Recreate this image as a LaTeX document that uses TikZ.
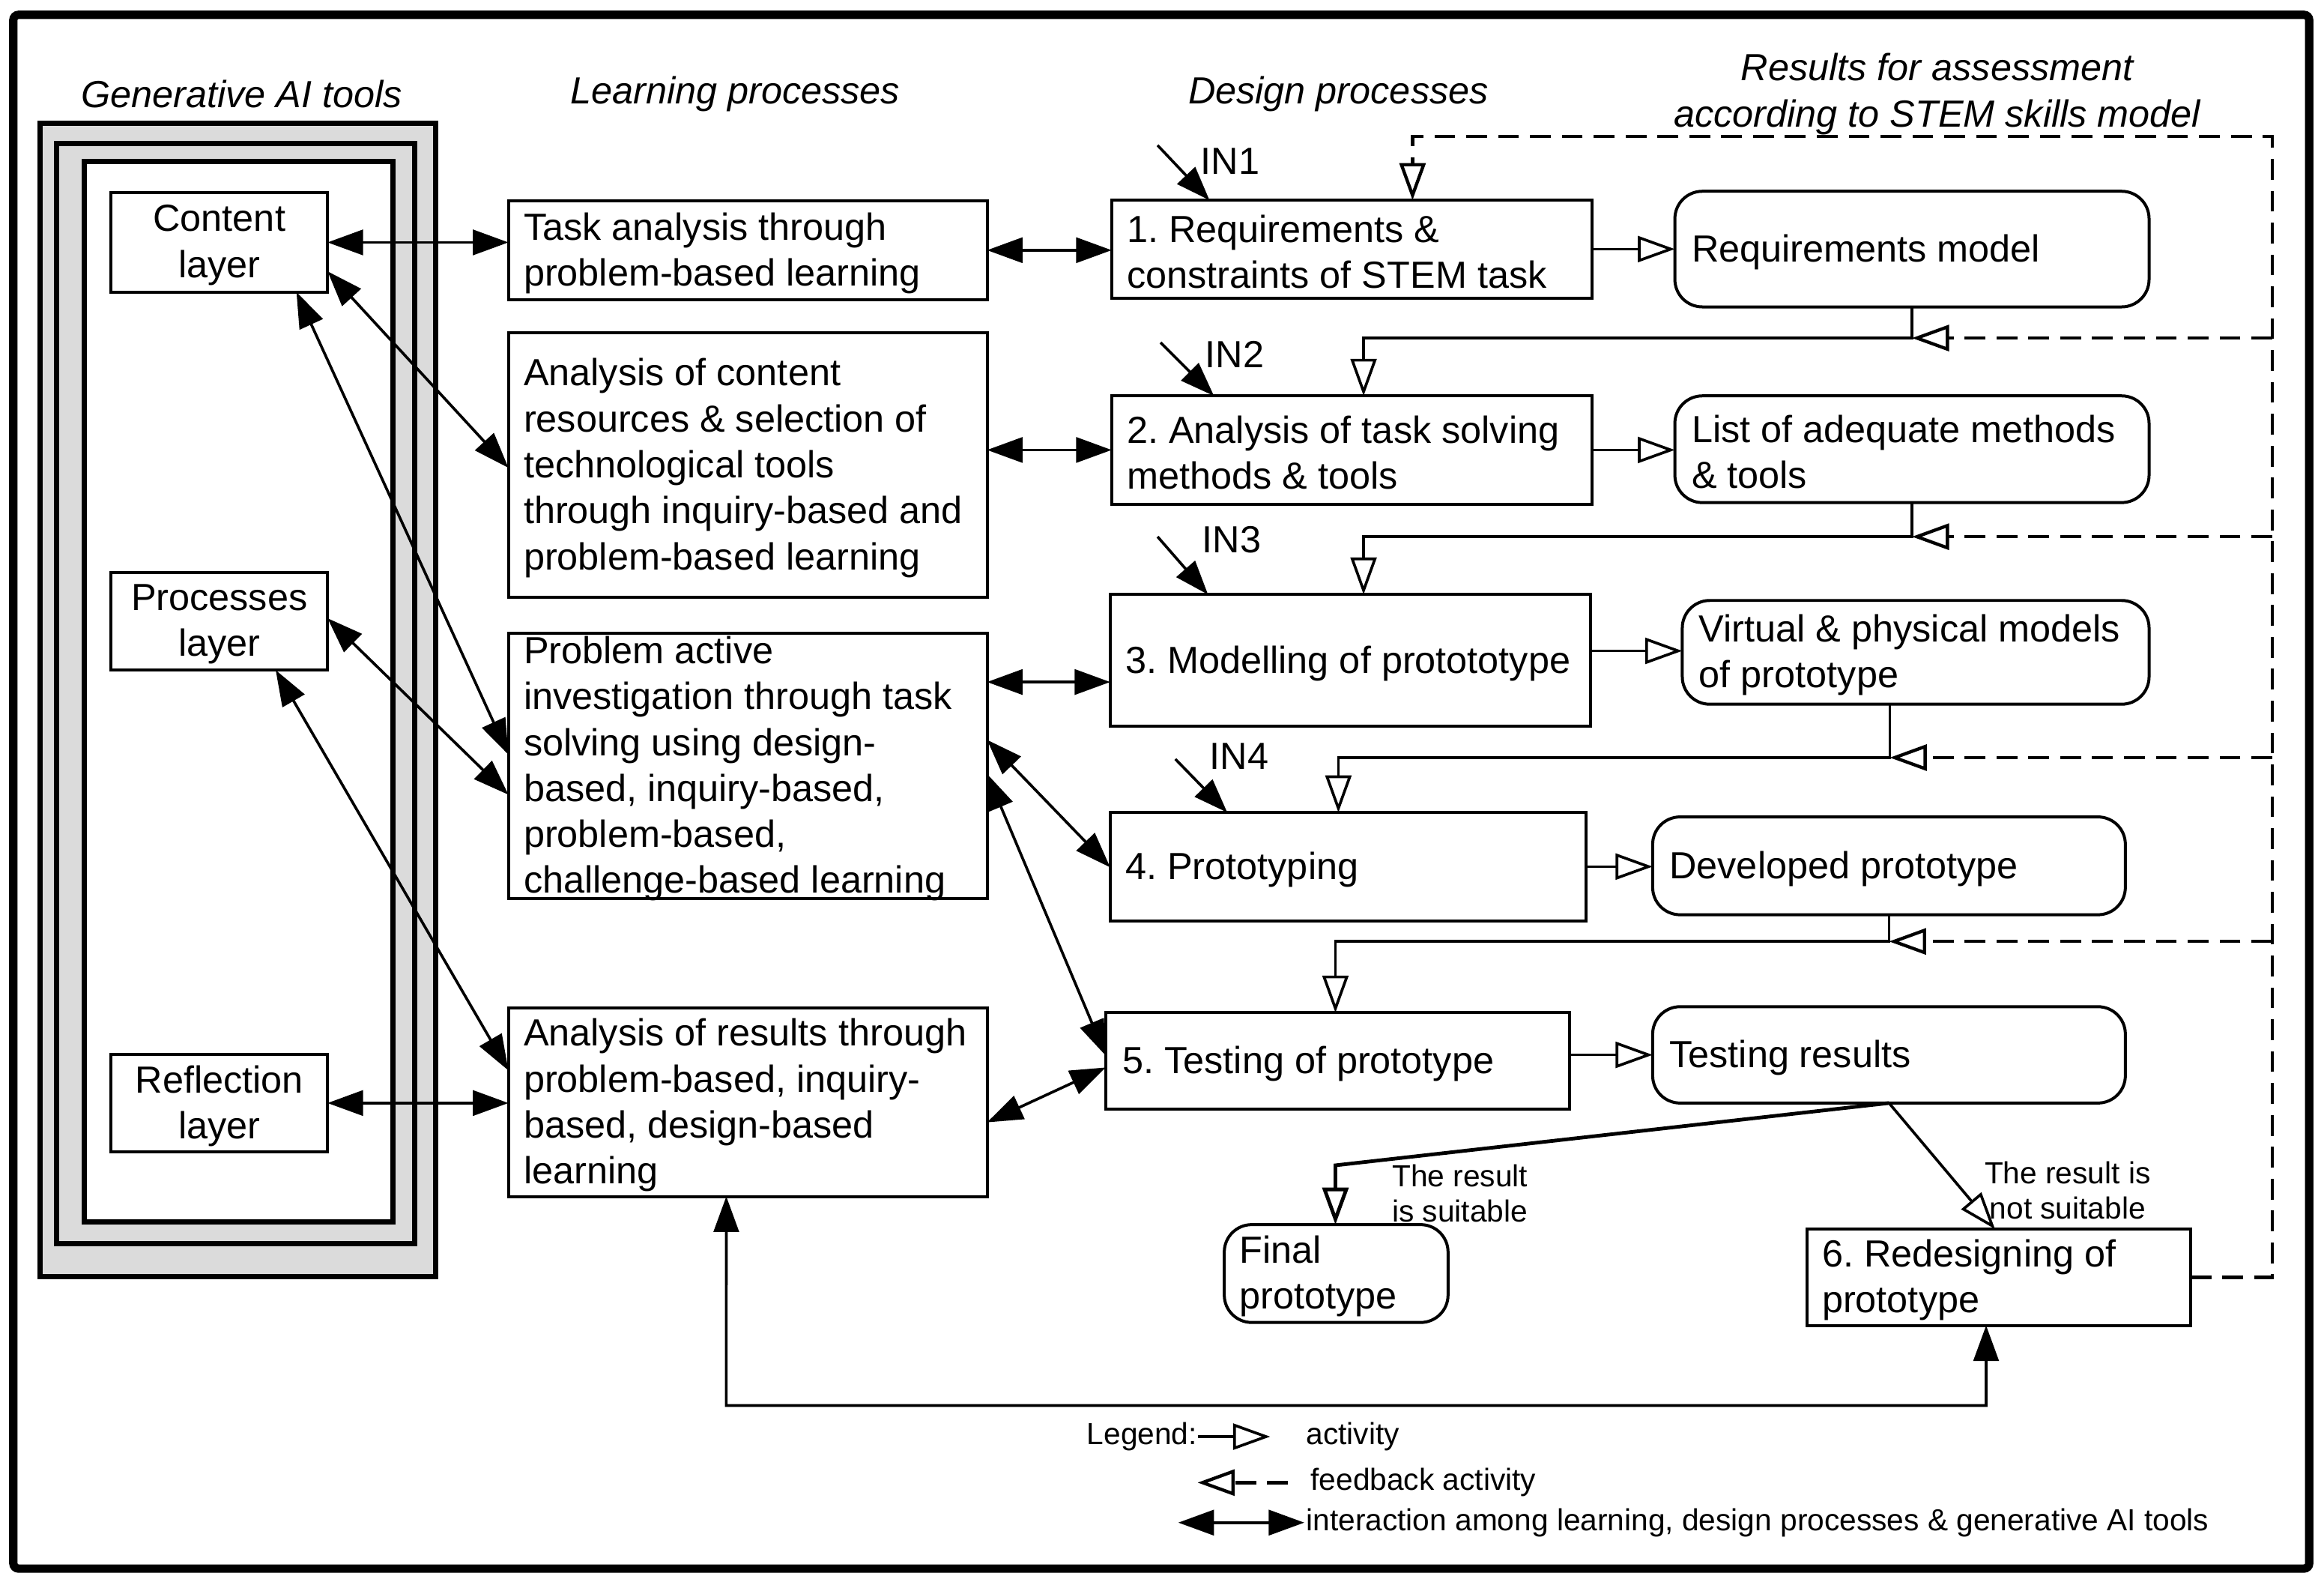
\documentclass[tikz,border=0pt]{standalone}
\usepackage{fontspec}
\setmainfont{Liberation Sans}
\usetikzlibrary{arrows.meta,calc}
\newcommand\mainsz{\fontsize{14.5pt}{17.64pt}\selectfont}
\newcommand\smallsz{\fontsize{11.7pt}{13.66pt}\selectfont}
\frenchspacing
\tikzset{
  pbox/.style={draw, line width=1.15pt, fill=white, inner sep=0pt, outer sep=0pt},
  rbox/.style={pbox, rounded corners=0.37cm},
  txt/.style={inner sep=0pt, align=left, font=\mainsz\frenchspacing, anchor=west, yshift=-1.1pt},
  ctxt/.style={inner sep=0pt, align=center, font=\mainsz\frenchspacing, yshift=-1.1pt},
  hdr/.style={inner sep=0pt, font=\mainsz\itshape, yshift=-1.4pt},
  lab/.style={inner sep=0pt, align=center, font=\smallsz},
  conn/.style={line width=1.05pt},
  inter/.style={conn, {Triangle[length=0.48cm,width=0.34cm]}-{Triangle[length=0.48cm,width=0.34cm]}},
  inarr/.style={conn, -{Triangle[length=0.46cm,width=0.33cm]}},
  act/.style={conn, -{Triangle[fill=white,length=0.5cm,width=0.35cm]}},
  fb/.style={act, line width=1.25pt, dash pattern=on 0.28cm off 0.15cm},
}
\begin{document}
\begin{tikzpicture}[x=0.02cm,y=-0.02cm]
\useasboundingbox (0,0) rectangle (1568,1071.1);
% outer frame
\draw[line width=3.2pt, rounded corners=2pt] (9,10) rectangle (1558,1058);
% generative AI tools frame
\draw[line width=2pt, fill=black!14] (27,83) rectangle (294,861);
\draw[line width=2pt, fill=black!14] (38,97) rectangle (280,839);
\draw[line width=2pt, fill=white] (57,109) rectangle (265,824);

% headers
\node[hdr] at (163,61) {Generative AI tools};
\node[hdr] at (496,61) {Learning processes};
\node[hdr] at (903,61) {Design processes};
\node[hdr, align=center] at (1307,61) {Results for assessment\\according to STEM skills model};

% layer boxes
\node[pbox, minimum width=2.92cm, minimum height=1.34cm] (CL) at (148,163.5) {};
\node[ctxt] at (CL) {Content\\layer};
\node[pbox, minimum width=2.92cm, minimum height=1.32cm] (PL) at (148,419) {};
\node[ctxt] at (PL) {Processes\\layer};
\node[pbox, minimum width=2.92cm, minimum height=1.32cm] (RL) at (148,744) {};
\node[ctxt] at (RL) {Reflection\\layer};

% learning processes
\node[pbox, minimum width=6.46cm, minimum height=1.33cm] (L1) at (504.5,168.75) {};
\node[txt] at ($(L1.west)+(10,0)$) {Task analysis through\\problem-based learning};
\node[pbox, minimum width=6.46cm, minimum height=3.57cm] (L2) at (504.5,313.75) {};
\node[txt] at ($(L2.west)+(10,0)$) {Analysis of content\\resources \& selection of\\technological tools\\through inquiry-based and\\problem-based learning};
\node[pbox, minimum width=6.46cm, minimum height=3.58cm] (L3) at (504.5,516.5) {};
\node[txt] at ($(L3.west)+(10,0)$) {Problem active\\investigation through task\\solving using design-\\based, inquiry-based,\\problem-based,\\challenge-based learning};
\node[pbox, minimum width=6.46cm, minimum height=2.54cm] (L4) at (504.5,743.5) {};
\node[txt] at ($(L4.west)+(10,0)$) {Analysis of results through\\problem-based, inquiry-\\based, design-based\\learning};

% design processes
\node[pbox, minimum width=6.48cm, minimum height=1.32cm] (D1) at (912,168) {};
\node[txt] at ($(D1.west)+(10,0)$) {1. Requirements \&\\constraints of STEM task};
\node[pbox, minimum width=6.48cm, minimum height=1.46cm] (D2) at (912,303.5) {};
\node[txt] at ($(D2.west)+(10,0)$) {2. Analysis of task solving\\methods \& tools};
\node[pbox, minimum width=6.48cm, minimum height=1.78cm] (D3) at (911,445.5) {};
\node[txt] at ($(D3.west)+(10,0)$) {3. Modelling of protototype};
\node[pbox, minimum width=6.42cm, minimum height=1.46cm] (D4) at (909.5,584.5) {};
\node[txt] at ($(D4.west)+(10,0)$) {4. Prototyping};
\node[pbox, minimum width=6.26cm, minimum height=1.30cm] (D5) at (902.5,715.5) {};
\node[txt] at ($(D5.west)+(11,0)$) {5. Testing of prototype};
\node[pbox, minimum width=5.18cm, minimum height=1.30cm] (D6) at (1348.5,861.5) {};
\node[txt] at ($(D6.west)+(10,0)$) {6. Redesigning of\\prototype};

% results
\node[rbox, minimum width=6.40cm, minimum height=1.56cm] (R1) at (1290,168) {};
\node[txt] at ($(R1.west)+(11,0)$) {Requirements model};
\node[rbox, minimum width=6.40cm, minimum height=1.44cm] (R2) at (1290,303) {};
\node[txt] at ($(R2.west)+(11,0)$) {List of adequate methods\\\& tools};
\node[rbox, minimum width=6.30cm, minimum height=1.40cm] (R3) at (1292.5,440) {};
\node[txt] at ($(R3.west)+(11,0)$) {Virtual \& physical models\\of prototype};
\node[rbox, minimum width=6.38cm, minimum height=1.32cm] (R4) at (1274.5,584) {};
\node[txt] at ($(R4.west)+(11,0)$) {Developed prototype};
\node[rbox, minimum width=6.38cm, minimum height=1.30cm] (R5) at (1274.5,711.5) {};
\node[txt] at ($(R5.west)+(11,0)$) {Testing results};
\node[rbox, minimum width=3.02cm, minimum height=1.32cm] (R6) at (901.5,859) {};
\node[txt] at ($(R6.west)+(10,0)$) {Final\\prototype};

% IN inputs
\node[ctxt] (in1l) at (830,107) {IN1};
\node[ctxt] (in2l) at (833,237) {IN2};
\node[ctxt] (in3l) at (831,362) {IN3};
\node[ctxt] (in4l) at (836,508) {IN4};
\coordinate (in1) at (781,98);
\coordinate (in2) at (783,231);
\coordinate (in3) at (781,362);
\coordinate (in4) at (793,512);
\draw[inarr] (in1) -- ($(D1.north west)+(66,0)$);
\draw[inarr] (in2) -- ($(D2.north west)+(69,0)$);
\draw[inarr] (in3) -- ($(D3.north west)+(66,0)$);
\draw[inarr] (in4) -- ($(D4.north west)+(79,0)$);

% interactions AI tools <-> learning
\draw[inter] (CL.east) -- (CL.east -| L1.west);
\draw[inter] ($(CL.north east)+(0,53)$) -- ($(L2.north west)+(0,91)$);
\draw[inter] ($(CL.south west)+(125,0)$) -- ($(L3.north west)+(0,82)$);
\draw[inter] ($(PL.north east)+(0,31)$) -- ($(L3.north west)+(0,109)$);
\draw[inter] ($(PL.south west)+(111,0)$) -- ($(L4.north west)+(0,42)$);
\draw[inter] (RL.east) -- (RL.east -| L4.west);

% interactions learning <-> design
\draw[inter] (L1.east) -- (L1.east -| D1.west);
\draw[inter] (D2.west -| L2.east) -- (D2.west);
\coordinate (l3d3) at ($(L3.north east)+(0,33)$);
\draw[inter] (l3d3) -- (l3d3 -| D3.west);
\draw[inter] ($(L3.north east)+(0,72)$) -- ($(D4.north west)+(0,37)$);
\draw[inter] ($(L3.north east)+(0,95)$) -- ($(D5.north west)+(0,29)$);
\draw[inter] ($(L4.north east)+(0,77)$) -- ($(D5.north west)+(0,37)$);

% activities design -> results
\draw[act] (D1.east) -- (D1.east -| R1.west);
\draw[act] (D2.east) -- (D2.east -| R2.west);
\coordinate (d3r3) at ($(D3.north east)+(0,38)$);
\draw[act] (d3r3) -- (d3r3 -| R3.west);
\draw[act] (D4.east) -- (D4.east -| R4.west);
\draw[act] (R5.west -| D5.east) -- (R5.west);

% results -> next design step
\coordinate (k1) at (920,228);
\coordinate (k2) at (920,362);
\coordinate (k3) at (903,511);
\coordinate (k4) at (901,635);
\coordinate (k5) at (901,786);
\coordinate (r3b) at ($(R3.south)+(-17.5,0)$);
\draw[act] (R1.south) |- (k1) -- (k1 |- D2.north);
\draw[act] (R2.south) |- (k2) -- (k2 |- D3.north);
\draw[act] (r3b) |- (k3) -- (k3 |- D4.north);
\draw[act] (R4.south) |- (k4) -- (k4 |- D5.north);
\draw[act, line width=1.4pt] (R5.south) -- (k5) -- (k5 |- R6.north);
\draw[act] (R5.south) -- ($(D6.north west)+(127,0)$);

% feedback
\coordinate (fbR) at (1533,92);
\coordinate (f1) at (1533,228);
\coordinate (f2) at (1533,362);
\coordinate (f3) at (1533,511);
\coordinate (f4) at (1533,635);
\draw[fb] (D6.east) -| (fbR) -| ($(D1.north west)+(203,0)$);
\draw[fb] (f1) -- (f1 -| R1.south);
\draw[fb] (f2) -- (f2 -| R2.south);
\draw[fb] (f3) -- (f3 -| r3b);
\draw[fb] (f4) -- (f4 -| R4.south);

% bottom loop
\coordinate (b1) at (490,948);
\coordinate (b2) at (1340,948);
\draw[inter] ($(L4.south west)+(147,0)$) -- (b1) -- (b2) -- ($(D6.south west)+(121,0)$);

% decision labels
\node[lab] at (985,805) {The result\\is suitable};
\node[lab] at (1395,803) {The result is\\not suitable};

% legend
\node[lab, anchor=west] (lg) at (733,969) {Legend:};
\coordinate (la1) at (808,969);
\coordinate (la2) at (857,969);
\draw[act] (la1) -- (la2);
\node[lab, anchor=west] at (881,969) {activity};
\coordinate (lb1) at (869,1000);
\coordinate (lb2) at (808,1000);
\draw[fb] (lb1) -- (lb2);
\node[lab, anchor=west] at (884,1000) {feedback activity};
\coordinate (lc1) at (795,1027);
\coordinate (lc2) at (880,1027);
\draw[inter] (lc1) -- (lc2);
\node[lab, anchor=west] at (881,1027) {interaction among learning, design processes \& generative AI tools};
\end{tikzpicture}
\end{document}
